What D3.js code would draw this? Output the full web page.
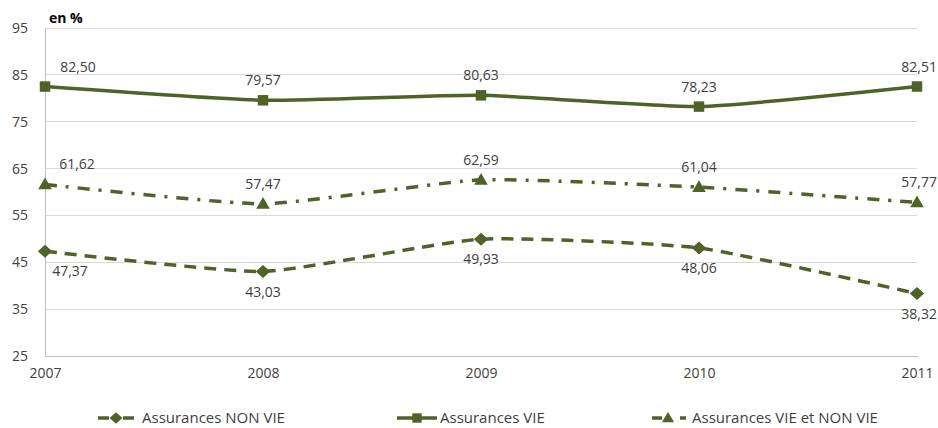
<!DOCTYPE html>
<html><head><meta charset="utf-8">
<script src="https://cdn.jsdelivr.net/npm/d3@7"></script>
<style>body{margin:0;background:#fff}svg{display:block}</style>
</head><body><div id="c"></div>
<script>
const years = ["2007","2008","2009","2010","2011"];
const nonVie = [47.37, 43.03, 49.93, 48.06, 38.32];
const vie = [82.50, 79.57, 80.63, 78.23, 82.51];
const vieNonVie = [61.62, 57.47, 62.59, 61.04, 57.77];
const yTicks = [25, 35, 45, 55, 65, 75, 85, 95];
const seriesNames = ["Assurances NON VIE", "Assurances VIE", "Assurances VIE et NON VIE"];

const W = 938, H = 428, color = "#4f6228";
const svg = d3.select("#c").append("svg").attr("width", W).attr("height", H);
const font = "'Open Sans', sans-serif";

const x = d3.scalePoint().domain(years).range([45, 917]);
const y = d3.scaleLinear().domain([25, 95]).range([356, 28]);

svg.append("g").selectAll("line").data(yTicks.slice(1)).join("line")
  .attr("x1", 45).attr("x2", 917).attr("y1", d => y(d)).attr("y2", d => y(d))
  .attr("stroke", "#d9d9d9").attr("stroke-width", 1).attr("shape-rendering", "crispEdges");

const ya = svg.append("g").attr("transform", "translate(45,0)")
  .call(d3.axisLeft(y).tickValues(yTicks).tickSize(0).tickPadding(17));
ya.select(".domain").attr("stroke", "#bfbfbf").attr("shape-rendering", "crispEdges");
ya.selectAll("text").attr("font-family", font).attr("font-size", 14).attr("fill", "#404040");

const xa = svg.append("g").attr("transform", "translate(0,356)")
  .call(d3.axisBottom(x).tickSize(0).tickPadding(12));
xa.select(".domain").attr("stroke", "#bfbfbf").attr("shape-rendering", "crispEdges");
xa.selectAll("text").attr("font-family", font).attr("font-size", 14).attr("fill", "#404040");

svg.append("text").attr("x", 49).attr("y", 23).text("en %")
  .attr("font-family", font).attr("font-size", 14).attr("font-weight", "bold").attr("fill", "#000");

const line = d3.line().x((d, i) => x(years[i])).y(d => y(d)).curve(d3.curveCardinal.tension(0.5));

const diamond = { draw(ctx, size) { const r = Math.sqrt(size / 2); ctx.moveTo(0, -r); ctx.lineTo(r * 1.1, 0); ctx.lineTo(0, r); ctx.lineTo(-r * 1.1, 0); ctx.closePath(); } };
const tri = { draw(ctx, size) { const r = Math.sqrt(size) * 0.62; ctx.moveTo(0, -r * 1.05); ctx.lineTo(r * 1.05, r * 0.75); ctx.lineTo(-r * 1.05, r * 0.75); ctx.closePath(); } };

const series = [
  {vals: nonVie, dash: "12,8", sym: diamond, size: 85, pos: "below"},
  {vals: vie, dash: null, sym: d3.symbolSquare, size: 110, pos: "above"},
  {vals: vieNonVie, dash: "12,9,3,9", sym: tri, size: 110, pos: "above"}
];
const fmt = v => v.toFixed(2).replace(".", ",");

series.forEach((s, k) => {
  svg.append("path").attr("d", line(s.vals)).attr("fill", "none")
    .attr("stroke", color).attr("stroke-width", 3.5)
    .attr("stroke-dasharray", s.dash);
  svg.append("g").selectAll("path").data(s.vals).join("path")
    .attr("d", d3.symbol().type(s.sym).size(s.size))
    .attr("transform", (d, i) => `translate(${x(years[i])},${y(d)})`)
    .attr("fill", color);
  const dxFirst = [25, 33, 32][k];
  svg.append("g").selectAll("text").data(s.vals).join("text")
    .attr("x", (d, i) => x(years[i]) + (i === 0 ? dxFirst : 0))
    .attr("y", d => y(d) + (s.pos === "above" ? -15 : 25))
    .attr("text-anchor", (d, i) => i === 4 ? "end" : "middle")
    .attr("dx", (d, i) => i === 4 ? 20 : 0)
    .attr("font-family", font).attr("font-size", 14).attr("fill", "#404040")
    .text(fmt);
});

const leg = [
  {x1: 98, x2: 134, tx: 142, k: 0, dash: "11,14"},
  {x1: 397, x2: 437, tx: 440, k: 1, dash: null},
  {x1: 652, x2: 686, tx: 692, k: 2, dash: "10,18,6,20"}
];
leg.forEach(l => {
  const s = series[l.k];
  const g = svg.append("g");
  g.append("line").attr("x1", l.x1).attr("x2", l.x2).attr("y1", 418).attr("y2", 418)
    .attr("stroke", color).attr("stroke-width", 3.5)
    .attr("stroke-dasharray", l.dash);
  g.append("path").attr("d", d3.symbol().type(s.sym).size(s.size * 0.8))
    .attr("transform", `translate(${(l.x1 + l.x2) / 2 + (l.k === 2 ? -1 : 0)},418)`).attr("fill", color);
  g.append("text").attr("x", l.tx).attr("y", 423).text(seriesNames[l.k])
    .attr("font-family", font).attr("font-size", 15).attr("fill", "#404040");
});
</script></body></html>
